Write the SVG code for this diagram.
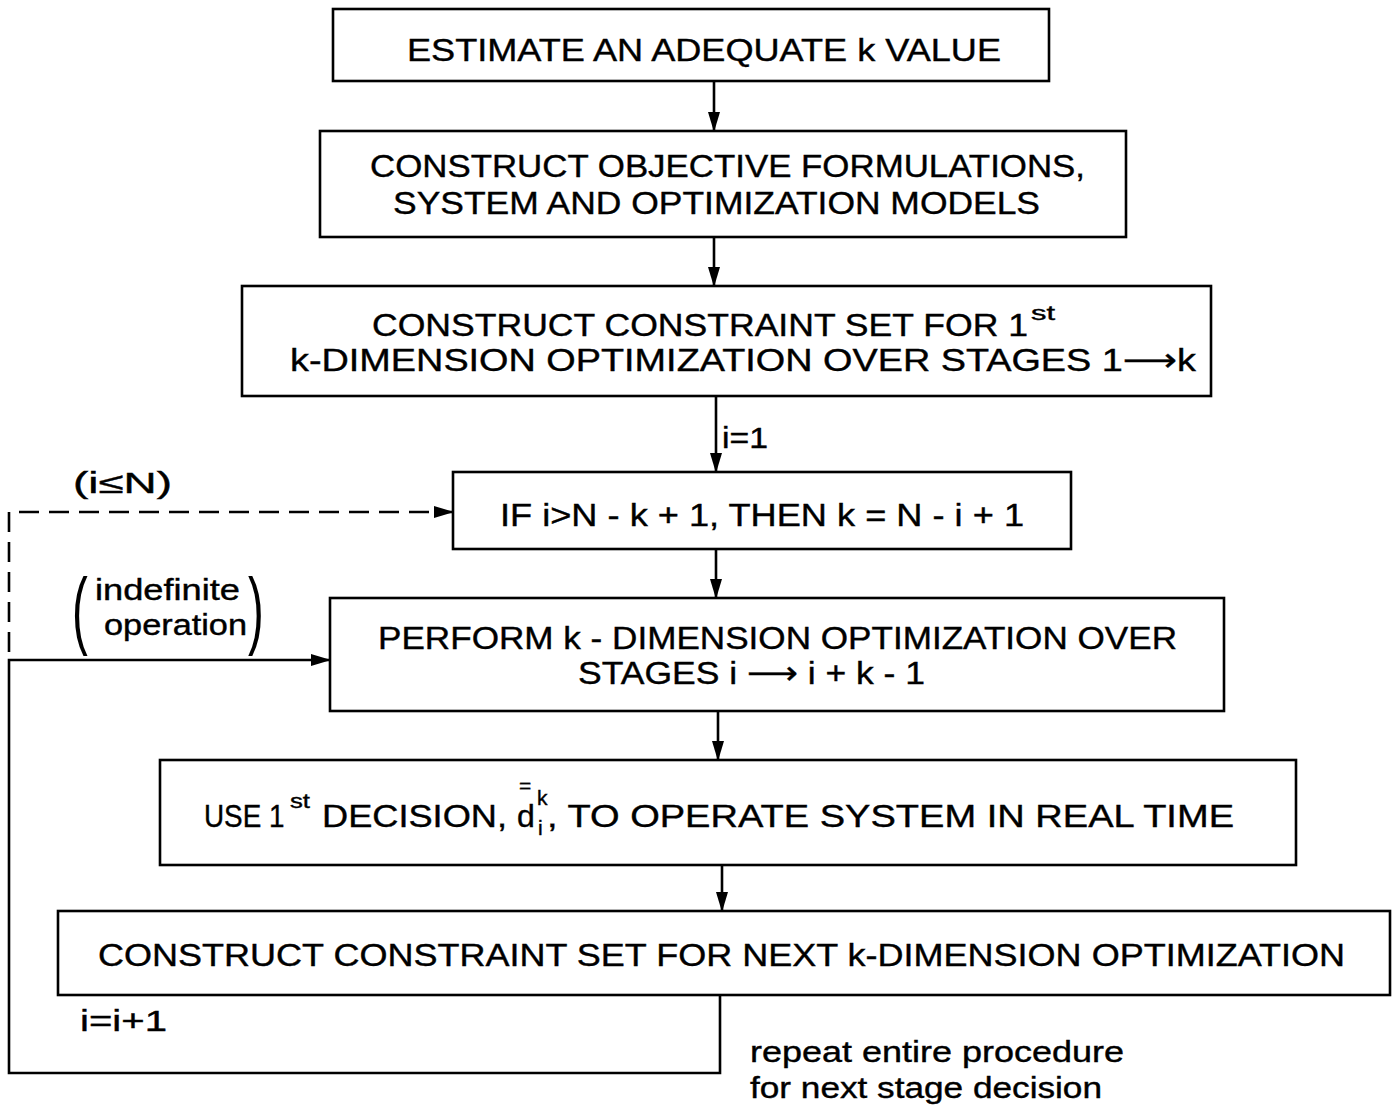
<svg xmlns="http://www.w3.org/2000/svg" width="1392" height="1106" viewBox="0 0 1392 1106">
  <style>
    .box { fill: none; stroke: #000; stroke-width: 2.6; }
    .wire { fill: none; stroke: #000; stroke-width: 2.6; }
    .dash { stroke-dasharray: 20 10; }
    text { font-family: "Liberation Sans", "DejaVu Sans", sans-serif; fill: #000; stroke: #000; stroke-width: 0.4; }
    .t { font-size: 32px; }
    .sup { font-size: 21px; }
    .lbl { font-size: 29px; }
    .paren { font-size: 86px; stroke-width: 0; }
  </style>
  <defs>
    <marker id="head" markerUnits="userSpaceOnUse" markerWidth="20" markerHeight="12" refX="19" refY="6" orient="auto">
      <path d="M0,0 L20,6 L0,12 Z" fill="#000"/>
    </marker>
  </defs>

  <rect width="1392" height="1106" fill="#fff"/>

  <g id="connectors">
    <line class="wire" x1="714" y1="81" x2="714" y2="131" marker-end="url(#head)"/>
    <line class="wire" x1="714" y1="237" x2="714" y2="286" marker-end="url(#head)"/>
    <line class="wire" x1="716" y1="396" x2="716" y2="472" marker-end="url(#head)"/>
    <line class="wire" x1="716" y1="549" x2="716" y2="598" marker-end="url(#head)"/>
    <line class="wire" x1="718" y1="711" x2="718" y2="760" marker-end="url(#head)"/>
    <line class="wire" x1="722" y1="865" x2="722" y2="911" marker-end="url(#head)"/>
    <!-- loop back to the optimization step -->
    <path class="wire" d="M720,995 V1073 H9 V660 H330" marker-end="url(#head)"/>
    <!-- dashed return to the horizon check -->
    <path class="wire dash" d="M9,652 V512 H453" marker-end="url(#head)"/>
    <text class="lbl" x="722" y="448" textLength="46" lengthAdjust="spacingAndGlyphs">i=1</text>
    <text class="lbl" x="73" y="493" textLength="99" lengthAdjust="spacingAndGlyphs">(i≤N)</text>
    <text class="paren" x="72" y="638" transform="translate(72 0) scale(0.55 1) translate(-72 0)">(</text>
    <text class="lbl" x="95" y="600" textLength="145" lengthAdjust="spacingAndGlyphs">indefinite</text>
    <text class="lbl" x="104" y="635" textLength="143" lengthAdjust="spacingAndGlyphs">operation</text>
    <text class="paren" x="248" y="638" transform="translate(248 0) scale(0.55 1) translate(-248 0)">)</text>
    <text class="lbl" x="80" y="1031" textLength="87" lengthAdjust="spacingAndGlyphs">i=i+1</text>
    <text class="lbl" x="750" y="1062" textLength="374" lengthAdjust="spacingAndGlyphs">repeat entire procedure</text>
    <text class="lbl" x="750" y="1098" textLength="352" lengthAdjust="spacingAndGlyphs">for next stage decision</text>
  </g>

  <g id="estimate-k">
    <rect class="box" x="333" y="9" width="716" height="72"/>
    <text class="t" x="407" y="61" textLength="594" lengthAdjust="spacingAndGlyphs">ESTIMATE AN ADEQUATE k VALUE</text>
  </g>

  <g id="construct-models">
    <rect class="box" x="320" y="131" width="806" height="106"/>
    <text class="t" x="370" y="177" textLength="715" lengthAdjust="spacingAndGlyphs">CONSTRUCT OBJECTIVE FORMULATIONS,</text>
    <text class="t" x="393" y="214" textLength="647" lengthAdjust="spacingAndGlyphs">SYSTEM AND OPTIMIZATION MODELS</text>
  </g>

  <g id="first-constraints">
    <rect class="box" x="242" y="286" width="969" height="110"/>
    <text class="t" x="372" y="336" textLength="656" lengthAdjust="spacingAndGlyphs">CONSTRUCT CONSTRAINT SET FOR 1</text>
    <text class="sup" x="1031" y="320" textLength="24" lengthAdjust="spacingAndGlyphs">st</text>
    <text class="t" x="290" y="371" textLength="906" lengthAdjust="spacingAndGlyphs">k-DIMENSION OPTIMIZATION OVER STAGES 1⟶k</text>
  </g>

  <g id="horizon-check">
    <rect class="box" x="453" y="472" width="618" height="77"/>
    <text class="t" x="500" y="526" textLength="524" lengthAdjust="spacingAndGlyphs">IF i&gt;N - k + 1, THEN k = N - i + 1</text>
  </g>

  <g id="optimize">
    <rect class="box" x="330" y="598" width="894" height="113"/>
    <text class="t" x="378" y="649" textLength="799" lengthAdjust="spacingAndGlyphs">PERFORM k - DIMENSION OPTIMIZATION OVER</text>
    <text class="t" x="578" y="684" textLength="347" lengthAdjust="spacingAndGlyphs">STAGES i ⟶ i + k - 1</text>
  </g>

  <g id="apply-decision">
    <rect class="box" x="160" y="760" width="1136" height="105"/>
    <text class="t" x="204" y="827" transform="translate(204 0) scale(0.87 1) translate(-204 0)">USE 1</text>
    <text class="sup" x="290" y="808" textLength="20" lengthAdjust="spacingAndGlyphs">st</text>
    <text class="t" x="322" y="827" textLength="185" lengthAdjust="spacingAndGlyphs">DECISION,</text>
    <text class="t" x="517" y="827">d</text>
    <text class="sup" x="519" y="793">=</text>
    <text class="sup" x="537" y="805">k</text>
    <text class="sup" x="538" y="835">i</text>
    <text class="t" x="547" y="827" textLength="687" lengthAdjust="spacingAndGlyphs">, TO OPERATE SYSTEM IN REAL TIME</text>
  </g>

  <g id="next-constraints">
    <rect class="box" x="58" y="911" width="1332" height="84"/>
    <text class="t" x="98" y="966" textLength="1247" lengthAdjust="spacingAndGlyphs">CONSTRUCT CONSTRAINT SET FOR NEXT k-DIMENSION OPTIMIZATION</text>
  </g>
</svg>
